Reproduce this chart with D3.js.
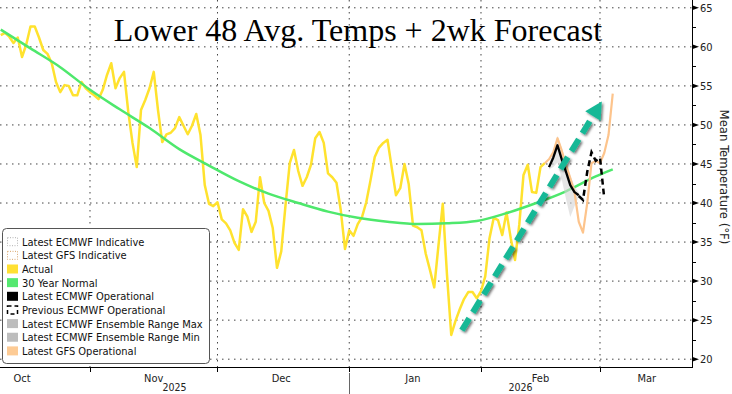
<!DOCTYPE html>
<html>
<head>
<meta charset="utf-8">
<script src="https://cdnjs.cloudflare.com/ajax/libs/d3/7.8.5/d3.min.js"></script>
<style>
    body { margin: 0; background: #fff; }
    svg text { font-family: "DejaVu Sans", sans-serif; font-stretch: condensed; }
</style>
</head>
<body>
<div id="chart"></div>
<script>

    // ---- Data ----

    // Actual daily mean temps, one value per day starting Oct 11 2025
    var actualStart = Date.UTC(2025, 9, 11)
    var actual = [
        61.5, 61.8, 61.3, 60.5, 61.2, 58.7, 60.3, 62.6, 62.6, 61.2,
        59.6, 59.1, 57.9, 55.5, 54.2, 55.1, 55.0, 53.8, 53.8, 55.5,
        54.7, 54.2, 53.8, 53.3, 54.5, 56.4, 57.9, 54.7, 56.0, 56.8,
        51.7, 47.7, 44.6, 51.9, 53.2, 54.7, 56.8, 51.9, 47.8, 48.8,
        49.0, 49.6, 51.0, 49.9, 48.8, 49.9, 51.4, 48.7, 42.3, 39.9,
        39.6, 40.1, 37.9, 37.4, 36.5, 34.9, 34.0, 39.2, 38.3, 36.3,
        37.6, 43.3, 40.0, 39.0, 36.8, 31.7, 33.8, 39.7, 45.1, 46.8,
        44.1, 42.2, 43.3, 44.9, 48.3, 49.1, 47.7, 43.8, 43.3, 42.6,
        39.1, 34.1, 36.5, 35.8, 37.3, 38.2, 40.1, 42.9, 45.9, 47.1,
        47.7, 48.1, 44.5, 41.0, 41.9, 45.0, 42.4, 37.1, 36.9, 36.5,
        33.5, 31.4, 29.2, 34.6, 39.9, 30.8, 23.1, 24.9, 26.4, 27.7,
        28.6, 28.6, 27.8, 28.7, 30.6, 35.5, 38.1, 37.8, 35.9, 38.8,
        35.5, 32.7, 37.2, 43.6, 44.9, 41.4, 41.3, 44.6, 45.1
    ]

    // 30 year normal, read weekly
    var normalDates = ["2025-10-11", "2025-10-18", "2025-10-25", "2025-11-01", "2025-11-08",
                       "2025-11-15", "2025-11-22", "2025-11-29", "2025-12-06", "2025-12-13",
                       "2025-12-20", "2025-12-27", "2026-01-03", "2026-01-10", "2026-01-17",
                       "2026-01-24", "2026-01-31", "2026-02-07", "2026-02-14", "2026-02-21",
                       "2026-02-28", "2026-03-04"]
    var normal = [62.2, 59.8, 57.4, 54.5, 52.0, 49.6, 46.9, 44.8, 42.8, 41.2,
                  40.0, 38.9, 38.1, 37.6, 37.3, 37.4, 37.7, 38.7, 40.0, 41.5,
                  43.4, 44.3]

    // Latest GFS operational, daily from Feb 16 2026
    var gfsStart = Date.UTC(2026, 1, 16)
    var gfs = [45.1, 45.6, 46.5, 48.3, 46.7, 44.9, 43.2, 41.4, 37.6, 36.2,
               40.0, 45.1, 45.4, 45.1, 46.4, 48.7, 54.0]

    // Latest ECMWF operational + ensemble range, daily from Feb 17 2026
    var ecmwfStart = Date.UTC(2026, 1, 17)
    var ecmwf = [44.6, 45.8, 47.4, 45.6, 44.0, 42.3, 41.4, 41.0]
    var ensMax = [44.9, 46.6, 48.6, 47.1, 45.3, 43.6, 42.1, 41.3]
    var ensMin = [44.3, 44.6, 45.2, 43.0, 40.5, 38.2, 39.6, 40.8]

    // Previous ECMWF operational (visible part), daily from Feb 24 2026
    var prevStart = Date.UTC(2026, 1, 24)
    var ecmwfPrev = [40.9, 40.4, 44.0, 46.5, 45.4, 45.8, 40.6]

    // Annotation arrow, [date, temp]
    var arrowFrom = [Date.UTC(2026, 0, 27, 12), 23.7]
    var arrowTo = [Date.UTC(2026, 2, 1, 10), 53.0]

    // Axis labels
    var yTicks = [20, 25, 30, 35, 40, 45, 50, 55, 60, 65]
    var monthTicks = ["2025-11-01", "2025-12-01", "2026-01-01", "2026-02-01", "2026-03-01"]
    var monthLabels = ["Oct", "Nov", "Dec", "Jan", "Feb", "Mar"]
    var monthLabelDates = ["2025-10-16", "2025-11-16", "2025-12-16", "2026-01-16", "2026-02-15", "2026-03-12"]
    var yearLabels = ["2025", "2026"]

    var legendItems = [
        { label: "Latest ECMWF Indicative",         type: "dotted", colour: "#b0b0b0" },
        { label: "Latest GFS Indicative",           type: "dotted", colour: "#d9a56a" },
        { label: "Actual",                          type: "fill",   colour: "#ffe033" },
        { label: "30 Year Normal",                  type: "fill",   colour: "#55e870" },
        { label: "Latest ECMWF Operational",        type: "fill",   colour: "#000000" },
        { label: "Previous ECMWF Operational",      type: "dashed", colour: "#000000" },
        { label: "Latest ECMWF Ensemble Range Max", type: "fill",   colour: "#bdbdbd" },
        { label: "Latest ECMWF Ensemble Range Min", type: "fill",   colour: "#bdbdbd" },
        { label: "Latest GFS Operational",          type: "fill",   colour: "#fdcb95" }
    ]


    // ---- Helpers ----
    var DAY = 86400000
    function daily(start, values) {
        return values.map(function(v, i) { return { date: new Date(start + i * DAY), value: v } })
    }
    var parseDate = d3.utcParse("%Y-%m-%d")


    // ---- Layout ----
    var width = 732, height = 394
    var plot = { left: 0, right: 692, top: 0, bottom: 367 }

    var svg = d3.select("#chart").append("svg")
        .attr("width", width)
        .attr("height", height)

    var x = d3.scaleUtc()
        .domain([new Date(Date.UTC(2025, 9, 10, 19, 46)), new Date(Date.UTC(2026, 2, 22, 15, 32))])
        .range([plot.left, plot.right])

    var y = d3.scaleLinear()
        .domain([19, 66])
        .range([plot.bottom, plot.top])

    var defs = svg.append("defs")
    defs.append("clipPath").attr("id", "clip")
        .append("rect")
        .attr("x", plot.left).attr("y", plot.top)
        .attr("width", plot.right - plot.left).attr("height", plot.bottom - plot.top)

    var shadow = defs.append("filter").attr("id", "shadow")
        .attr("x", "-20%").attr("y", "-20%").attr("width", "140%").attr("height", "140%")
    shadow.append("feDropShadow")
        .attr("dx", 1.5).attr("dy", 1.5).attr("stdDeviation", 0.8)
        .attr("flood-color", "#000").attr("flood-opacity", 0.55)


    // ---- Grid ----
    var grid = svg.append("g")
    grid.selectAll("line.h")
        .data(yTicks)
        .enter().append("line")
        .attr("x1", plot.left).attr("x2", plot.right)
        .attr("y1", function(d) { return y(d) }).attr("y2", function(d) { return y(d) })
        .attr("stroke", "#444").attr("stroke-width", 1).attr("stroke-dasharray", "1.5,4.5")

    grid.selectAll("line.v")
        .data(monthTicks)
        .enter().append("line")
        .attr("x1", function(d) { return x(parseDate(d)) }).attr("x2", function(d) { return x(parseDate(d)) })
        .attr("y1", plot.top).attr("y2", plot.bottom)
        .attr("stroke", "#444").attr("stroke-width", 1).attr("stroke-dasharray", "1.5,4.5")


    // ---- Title ----
    svg.append("text")
        .attr("x", 358).attr("y", 41)
        .attr("text-anchor", "middle")
        .style("font-family", "'Liberation Serif', 'Times New Roman', serif")
        .style("font-stretch", "normal")
        .style("font-size", "32px")
        .attr("fill", "#000")
        .text("Lower 48 Avg. Temps + 2wk Forecast")


    // ---- Series ----
    var line = d3.line()
        .x(function(d) { return x(d.date) })
        .y(function(d) { return y(d.value) })

    var series = svg.append("g").attr("clip-path", "url(#clip)")

    series.append("path")
        .datum(daily(actualStart, actual))
        .attr("d", line)
        .attr("fill", "none").attr("stroke", "#ffe22e").attr("stroke-width", 2.5)
        .attr("stroke-linejoin", "round")

    var normalData = normalDates.map(function(d, i) { return { date: parseDate(d), value: normal[i] } })
    series.append("path")
        .datum(normalData)
        .attr("d", line.curve(d3.curveMonotoneX))
        .attr("fill", "none").attr("stroke", "#4ee86c").attr("stroke-width", 2.5)
    line.curve(d3.curveLinear)

    // ensemble range band
    var ensData = ensMax.map(function(v, i) {
        return { date: new Date(ecmwfStart + i * DAY), hi: v, lo: ensMin[i] }
    })
    series.append("path")
        .datum(ensData)
        .attr("d", d3.area()
            .x(function(d) { return x(d.date) })
            .y0(function(d) { return y(d.lo) })
            .y1(function(d) { return y(d.hi) }))
        .attr("fill", "#d4d4d4").attr("opacity", 0.6)

    series.append("path")
        .datum(daily(gfsStart, gfs))
        .attr("d", line)
        .attr("fill", "none").attr("stroke", "#fdc48c").attr("stroke-width", 2.2)
        .attr("stroke-linejoin", "round")

    series.append("path")
        .datum(daily(prevStart, ecmwfPrev))
        .attr("d", line)
        .attr("fill", "none").attr("stroke", "#000").attr("stroke-width", 2.5)
        .attr("stroke-dasharray", "6,4")

    series.append("path")
        .datum(daily(ecmwfStart, ecmwf))
        .attr("d", line)
        .attr("fill", "none").attr("stroke", "#000").attr("stroke-width", 2.3)
        .attr("stroke-linejoin", "round")


    // ---- Annotation arrow ----
    var ax0 = x(new Date(arrowFrom[0])), ay0 = y(arrowFrom[1])
    var ax1 = x(new Date(arrowTo[0])), ay1 = y(arrowTo[1])
    var ang = Math.atan2(ay1 - ay0, ax1 - ax0)
    var headLen = 17, headHalf = 9
    var bx = ax1 - headLen * Math.cos(ang), by = ay1 - headLen * Math.sin(ang)

    var arrow = svg.append("g").attr("filter", "url(#shadow)")
    arrow.append("line")
        .attr("x1", ax0).attr("y1", ay0)
        .attr("x2", bx + 3 * Math.cos(ang)).attr("y2", by + 3 * Math.sin(ang))
        .attr("stroke", "#17b896").attr("stroke-width", 6)
        .attr("stroke-dasharray", "14,7")
    arrow.append("path")
        .attr("d", "M" + ax1 + "," + ay1 +
                   "L" + (bx + headHalf * Math.sin(ang)) + "," + (by - headHalf * Math.cos(ang)) +
                   "L" + (bx - headHalf * Math.sin(ang)) + "," + (by + headHalf * Math.cos(ang)) + "Z")
        .attr("fill", "#17b896")


    // ---- Right axis ----
    var axis = svg.append("g")
    axis.append("line")
        .attr("x1", plot.right + 0.5).attr("x2", plot.right + 0.5)
        .attr("y1", plot.top).attr("y2", plot.bottom)
        .attr("stroke", "#000")

    var minor = d3.range(20, 66, 2.5).filter(function(v) { return v % 5 !== 0 })
    axis.selectAll("line.minor")
        .data(minor)
        .enter().append("line")
        .attr("x1", plot.right).attr("x2", plot.right + 4)
        .attr("y1", function(d) { return Math.round(y(d)) + 0.5 }).attr("y2", function(d) { return Math.round(y(d)) + 0.5 })
        .attr("stroke", "#000")

    axis.selectAll("path.major")
        .data(yTicks)
        .enter().append("path")
        .attr("d", function(d) {
            var yy = y(d)
            return "M" + plot.right + "," + (yy - 2.5) + "L" + (plot.right + 7) + "," + yy + "L" + plot.right + "," + (yy + 2.5) + "Z"
        })
        .attr("fill", "#000")

    axis.selectAll("text.tick")
        .data(yTicks)
        .enter().append("text")
        .attr("x", plot.right + 8).attr("y", function(d) { return y(d) + 4 })
        .style("font-size", "11px").attr("fill", "#222")
        .text(function(d) { return d })

    svg.append("text")
        .attr("transform", "translate(720,177) rotate(90)")
        .attr("text-anchor", "middle")
        .style("font-size", "13px").attr("fill", "#222")
        .text("Mean Temperature (°F)")


    // ---- Bottom axis ----
    var bottom = svg.append("g")
    bottom.append("line")
        .attr("x1", plot.left).attr("x2", plot.right + 1)
        .attr("y1", plot.bottom + 0.5).attr("y2", plot.bottom + 0.5)
        .attr("stroke", "#000")

    bottom.selectAll("line.tick")
        .data(monthTicks)
        .enter().append("line")
        .attr("x1", function(d) { return Math.round(x(parseDate(d))) + 0.5 })
        .attr("x2", function(d) { return Math.round(x(parseDate(d))) + 0.5 })
        .attr("y1", plot.bottom).attr("y2", plot.bottom + 5)
        .attr("stroke", "#000")

    bottom.selectAll("text.month")
        .data(monthLabels)
        .enter().append("text")
        .attr("x", function(d, i) { return x(parseDate(monthLabelDates[i])) })
        .attr("y", 382)
        .attr("text-anchor", "middle")
        .style("font-size", "11px").attr("fill", "#222")
        .text(function(d) { return d })

    var yearSplit = x(parseDate("2026-01-01"))
    bottom.append("line")
        .attr("x1", Math.round(yearSplit) + 0.5).attr("x2", Math.round(yearSplit) + 0.5)
        .attr("y1", 373).attr("y2", 394)
        .attr("stroke", "#666")

    bottom.selectAll("text.year")
        .data(yearLabels)
        .enter().append("text")
        .attr("x", function(d, i) { return i === 0 ? (plot.left + yearSplit) / 2 : (yearSplit + plot.right) / 2 })
        .attr("y", 391)
        .attr("text-anchor", "middle")
        .style("font-size", "10.5px").attr("fill", "#222")
        .text(function(d) { return d })


    // ---- Legend ----
    var legend = svg.append("g")
    legend.append("rect")
        .attr("x", 2.5).attr("y", 228.5)
        .attr("width", 207).attr("height", 135)
        .attr("rx", 4)
        .attr("fill", "#fff").attr("stroke", "#555")

    var rows = legend.selectAll("g.row")
        .data(legendItems)
        .enter().append("g")
        .attr("transform", function(d, i) { return "translate(7," + (241.7 + i * 13.65) + ")" })

    rows.append("rect")
        .attr("x", function(d) { return d.type === "fill" ? 0 : 0.5 })
        .attr("y", function(d) { return d.type === "fill" ? -4.5 : -4 })
        .attr("width", function(d) { return d.type === "fill" ? 11 : 10 })
        .attr("height", function(d) { return d.type === "fill" ? 9 : 8 })
        .attr("fill", function(d) { return d.type === "fill" ? d.colour : "none" })
        .attr("stroke", function(d) { return d.type === "fill" ? "none" : d.colour })
        .attr("stroke-dasharray", function(d) { return d.type === "dotted" ? "1,1.5" : d.type === "dashed" ? "4,3" : null })
        .attr("stroke-width", function(d) { return d.type === "dashed" ? 1.5 : 1 })

    rows.append("text")
        .attr("x", 15).attr("y", 4)
        .style("font-size", "11px").attr("fill", "#111")
        .text(function(d) { return d.label })

</script>
</body>
</html>
